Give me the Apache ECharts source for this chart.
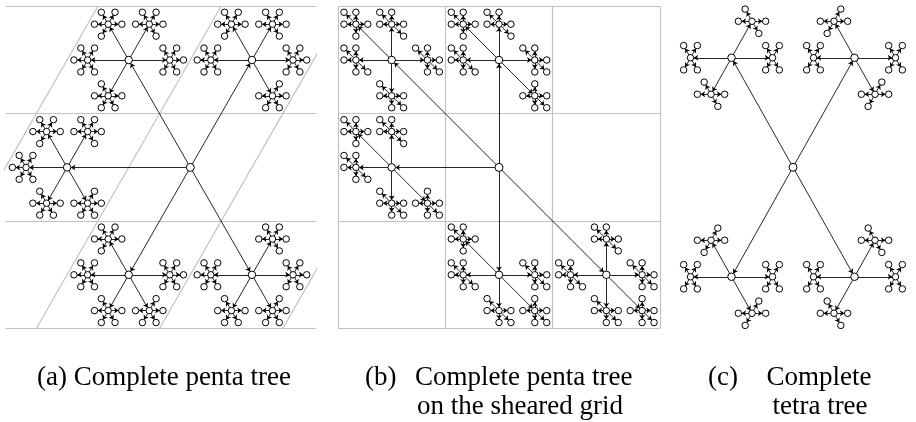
<!DOCTYPE html>
<html>
<head>
<meta charset="utf-8">
<script src="https://cdn.jsdelivr.net/npm/echarts@6/dist/echarts.min.js"></script>
<style>
  html, body { margin: 0; padding: 0; background: #fff; }
  #chart { width: 916px; height: 422px; }
</style>
</head>
<body>
<div id="chart"></div>
<script>
// six neighbour steps on the sheared grid (col, row; row points down): 0°, 60°, 120°, 180°, 240°, 300°
const hexDirs = [[1, 0], [0, -1], [-1, -1], [-1, 0], [0, 1], [1, 1]];
// directions the root does not use
const pentaRootSkip = [0];
const tetraRootSkip = [0, 3];
const treeDepth = 3;
const shrink = 1 / 3;
// circle size per tree level (root .. leaves)
const nodeSizes = [8, 7.5, 6.5, 6.5];
// grid cell borders, in cell units around the root
const gridCuts = [-1.5, -0.5, 0.5, 1.5];
const captions = [
  { text: '(a) Complete penta tree', x: 164, y: 378, align: 'center' },
  { text: '(b)', x: 365, y: 378, align: 'left' },
  { text: 'Complete penta tree', x: 415, y: 378, align: 'left' },
  { text: 'on the sheared grid', x: 520, y: 407, align: 'center' },
  { text: '(c)', x: 708, y: 378, align: 'left' },
  { text: 'Complete', x: 819, y: 378, align: 'center' },
  { text: 'tetra tree', x: 820, y: 407, align: 'center' }
];

// grow the tree: each child skips the step back to its parent,
// tetra children also skip going straight on
function buildTree(rootSkip, dropStraight) {
  const nodes = [{ c: 0, r: 0, depth: 0 }];
  const links = [];
  function grow(idx, dirIdx, len, depth) {
    if (depth === treeDepth) return;
    const n = nodes[idx];
    hexDirs.forEach((d, k) => {
      let skip;
      if (dirIdx < 0) skip = rootSkip.includes(k);
      else skip = k === (dirIdx + 3) % 6 || (dropStraight && k === dirIdx);
      if (skip) return;
      nodes.push({ c: n.c + d[0] * len, r: n.r + d[1] * len, depth: depth + 1 });
      const ci = nodes.length - 1;
      links.push({ source: idx, target: ci });
      grow(ci, k, len * shrink, depth + 1);
    });
  }
  grow(0, -1, 1, 0);
  return { nodes, links };
}

const penta = buildTree(pentaRootSkip, false);
const tetra = buildTree(tetraRootSkip, true);

// panel projections
const toHexA = n => [n.c - n.r / 2, 1.5 - n.r];
const toSquareB = n => [n.c + 1.5, 1.5 - n.r];
const toHexC = n => [n.c - n.r / 2, -n.r];

const gridColor = '#c2c2c2';

function treeSeries(tree, proj, axisIdx) {
  return {
    type: 'graph',
    layout: 'none',
    coordinateSystem: 'cartesian2d',
    xAxisIndex: axisIdx,
    yAxisIndex: axisIdx,
    data: tree.nodes.map(n => ({ value: proj(n), symbolSize: nodeSizes[n.depth] })),
    links: tree.links,
    symbol: 'circle',
    itemStyle: { color: '#fff', borderColor: '#000', borderWidth: 1 },
    lineStyle: { color: '#000', width: 0.85, opacity: 1, curveness: 0 },
    edgeSymbol: ['none', 'arrow'],
    edgeSymbolSize: 4.5,
    label: { show: false },
    emphasis: { disabled: true },
    silent: true,
    z: 3
  };
}

const hiddenAxis = {
  axisLine: { show: false },
  axisTick: { show: false },
  axisLabel: { show: false }
};

const chart = echarts.init(document.getElementById('chart'), null, { renderer: 'canvas' });

chart.setOption({
  animation: false,
  backgroundColor: '#fff',
  grid: [
    { left: 5.5, top: 6.3, width: 310.5, height: 322.2 },
    { left: 338, top: 6.3, width: 322, height: 322.2 },
    { left: 670, top: 3, width: 252, height: 328.5 }
  ],
  xAxis: [
    { ...hiddenAxis, type: 'value', gridIndex: 0, min: -1.5, max: 1.02, splitLine: { show: false } },
    { ...hiddenAxis, type: 'value', gridIndex: 1, min: 0, max: 3, interval: 1,
      splitLine: { show: true, lineStyle: { color: gridColor, width: 1.2 } } },
    { ...hiddenAxis, type: 'value', gridIndex: 2, min: -1, max: 1, splitLine: { show: false } }
  ],
  yAxis: [
    { ...hiddenAxis, type: 'value', gridIndex: 0, min: 0, max: 3, interval: 1,
      splitLine: { show: true, lineStyle: { color: gridColor, width: 1.2 } } },
    { ...hiddenAxis, type: 'value', gridIndex: 1, min: 0, max: 3, interval: 1,
      splitLine: { show: true, lineStyle: { color: gridColor, width: 1.2 } } },
    { ...hiddenAxis, type: 'value', gridIndex: 2, min: -1.5, max: 1.5, splitLine: { show: false } }
  ],
  series: [
    // slanted cell borders of the sheared grid in panel (a)
    ...gridCuts.map(k => ({
      type: 'line',
      xAxisIndex: 0,
      yAxisIndex: 0,
      data: [[k - 0.75, 0], [k + 0.75, 3]],
      symbol: 'none',
      clip: true,
      silent: true,
      lineStyle: { color: gridColor, width: 1.2 },
      z: 1
    })),
    treeSeries(penta, toHexA, 0),
    treeSeries(penta, toSquareB, 1),
    treeSeries(tetra, toHexC, 2)
  ],
  graphic: captions.map(t => ({
    type: 'text',
    x: t.x,
    y: t.y,
    silent: true,
    style: {
      text: t.text,
      font: '27px "Liberation Serif"',
      fill: '#000',
      align: t.align,
      textAlign: t.align,
      verticalAlign: 'middle',
      textVerticalAlign: 'middle'
    }
  }))
});
</script>
</body>
</html>
